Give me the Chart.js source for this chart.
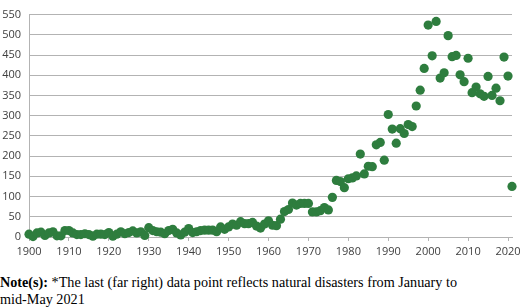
<!DOCTYPE html>
<html>
<head>
<meta charset="utf-8">
<script src="https://cdn.jsdelivr.net/npm/chart.js@4.4.1/dist/chart.umd.min.js"></script>
<style>
    html, body { margin: 0; padding: 0; background: #fff; }
    #wrap { position: relative; width: 520px; height: 308px; overflow: hidden; }
    #chart-box { position: absolute; left: 0; top: 0; width: 520px; height: 268px; }
    #note {
        position: absolute; left: 0; top: 274px; width: 520px;
        font-family: "Liberation Serif", "Times New Roman", serif;
        font-size: 14.2px; line-height: 17px; color: #000;
    }
</style>
</head>
<body>
<div id="wrap">
    <div id="chart-box"><canvas id="disasters-canvas"></canvas></div>
    <div id="note"><b>Note(s):</b> *The last (far right) data point reflects natural disasters from January to<br>mid-May 2021</div>
</div>
<script>
    var years = [
        1900, 1901, 1902, 1903, 1904, 1905, 1906, 1907, 1908, 1909,
        1910, 1911, 1912, 1913, 1914, 1915, 1916, 1917, 1918, 1919,
        1920, 1921, 1922, 1923, 1924, 1925, 1926, 1927, 1928, 1929,
        1930, 1931, 1932, 1933, 1934, 1935, 1936, 1937, 1938, 1939,
        1940, 1941, 1942, 1943, 1944, 1945, 1946, 1947, 1948, 1949,
        1950, 1951, 1952, 1953, 1954, 1955, 1956, 1957, 1958, 1959,
        1960, 1961, 1962, 1963, 1964, 1965, 1966, 1967, 1968, 1969,
        1970, 1971, 1972, 1973, 1974, 1975, 1976, 1977, 1978, 1979,
        1980, 1981, 1982, 1983, 1984, 1985, 1986, 1987, 1988, 1989,
        1990, 1991, 1992, 1993, 1994, 1995, 1996, 1997, 1998, 1999,
        2000, 2001, 2002, 2003, 2004, 2005, 2006, 2007, 2008, 2009,
        2010, 2011, 2012, 2013, 2014, 2015, 2016, 2017, 2018, 2019,
        2020, 2021
    ];
    var disasters = [
        7, 1, 10, 12, 4, 10, 13, 3, 3, 16,
        16, 10, 6, 6, 8, 6, 2, 7, 7, 6,
        11, 2, 7, 13, 8, 11, 15, 10, 13, 4,
        23, 16, 13, 12, 8, 16, 19, 10, 5, 12,
        21, 11, 13, 16, 17, 17, 17, 13, 25, 19,
        25, 32, 29, 38, 33, 33, 36, 27, 22, 32,
        40, 29, 28, 44, 63, 68, 84, 79, 83, 83,
        83, 62, 62, 65, 73, 67, 98, 140, 137, 122,
        144, 146, 151, 205, 156, 175, 174, 228, 234, 190,
        303, 267, 232, 268, 256, 278, 273, 324, 363, 417,
        524, 448, 533, 393, 406, 498, 446, 449, 401, 384,
        442, 357, 371, 354, 348, 397, 350, 368, 337, 445,
        398, 125
    ];
    var yearMin = 1900, yearMax = 2021, yearStep = 10;
    var countMax = 550, countStep = 50;

    var points = years.map(function (y, i) {
        return { x: y, y: disasters[i] };
    });

    var textColor = '#404040';
    var gridColor = '#b3b3b3';
    var tickFont = { family: '"Open Sans", "Noto Sans", sans-serif', size: 11 };

    new Chart(document.getElementById('disasters-canvas'), {
        type: 'scatter',
        data: {
            datasets: [{
                label: 'Natural disasters',
                data: points,
                backgroundColor: '#2e7d3e',
                borderWidth: 0,
                pointRadius: 4.6,
                pointHoverRadius: 4.6,
                clip: false
            }]
        },
        options: {
            responsive: true,
            maintainAspectRatio: false,
            animation: false,
            layout: { padding: { top: 6, right: 0, left: 0, bottom: 0 } },
            plugins: {
                legend: { display: false },
                tooltip: { enabled: false }
            },
            scales: {
                x: {
                    type: 'linear',
                    min: yearMin,
                    max: yearMax,
                    grid: {
                        drawOnChartArea: false,
                        color: gridColor,
                        tickLength: 4
                    },
                    border: { color: gridColor, width: 1 },
                    ticks: {
                        stepSize: yearStep,
                        includeBounds: false,
                        color: textColor,
                        font: tickFont,
                        padding: 4,
                        maxRotation: 0,
                        callback: function (v) { return String(v); }
                    },
                    afterFit: function (s) {
                        s.height = 31;
                        s.paddingLeft = 0;
                        s.paddingRight = 8;
                    }
                },
                y: {
                    min: 0,
                    max: countMax,
                    grid: {
                        color: gridColor,
                        drawTicks: false
                    },
                    border: { color: gridColor, width: 1 },
                    ticks: {
                        stepSize: countStep,
                        color: textColor,
                        font: tickFont,
                        padding: 8
                    },
                    afterFit: function (s) { s.width = 29; }
                }
            }
        }
    });
</script>
</body>
</html>
